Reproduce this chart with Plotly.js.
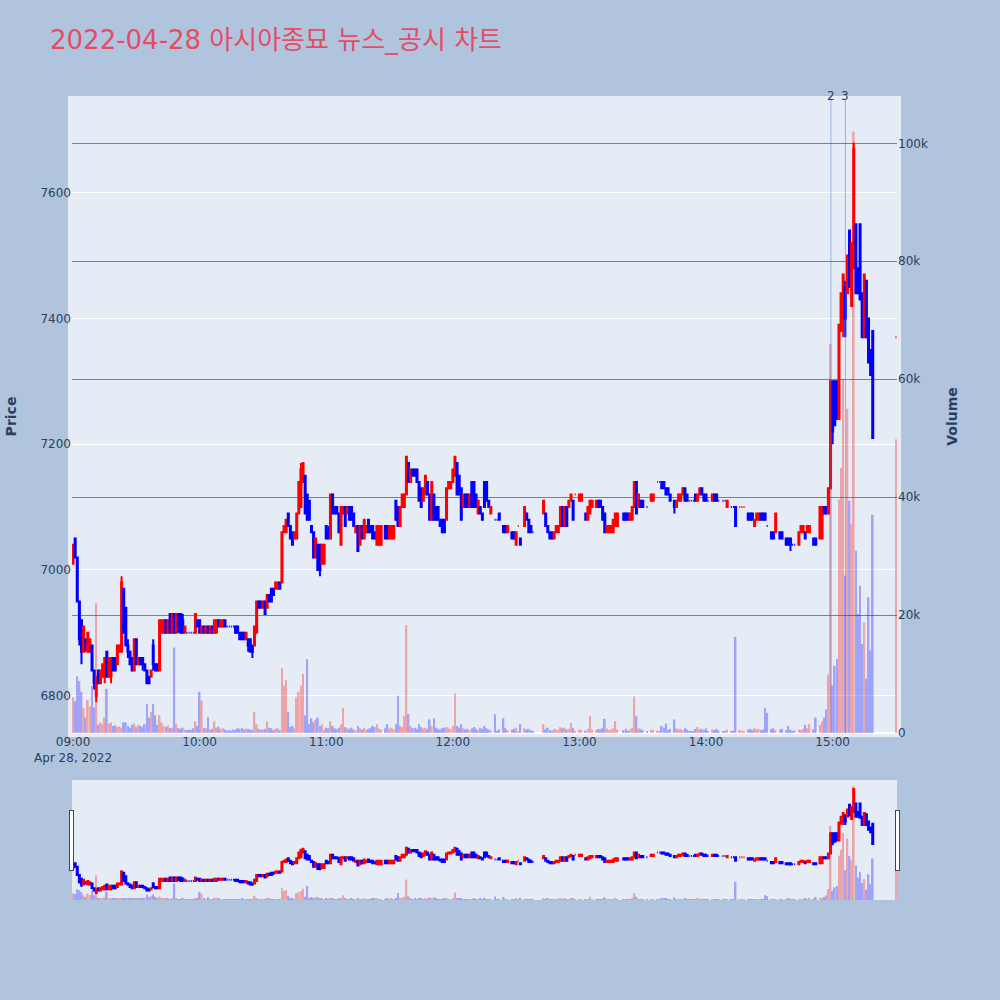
<!DOCTYPE html>
<html>
<head>
<meta charset="utf-8">
<script src="https://cdn.plot.ly/plotly-3.0.1.min.js"></script>
<style>body{margin:0;background:#b0c4de}</style>
</head>
<body>
<div id="chart" style="width:1000px;height:1000px"></div>
<script>
'use strict'

// 1-minute bars, 2022-04-28 (minutes with no trade are left out)
const times = [
  '09:00','09:01','09:02','09:03','09:04','09:05','09:06','09:07','09:08','09:09',
  '09:10','09:11','09:12','09:13','09:14','09:15','09:16','09:17','09:18','09:19',
  '09:20','09:21','09:22','09:23','09:24','09:25','09:26','09:27','09:28','09:29',
  '09:30','09:31','09:32','09:33','09:34','09:35','09:36','09:37','09:38','09:39',
  '09:40','09:41','09:42','09:43','09:44','09:45','09:46','09:47','09:48','09:49',
  '09:50','09:51','09:52','09:53','09:54','09:55','09:56','09:57','09:58','09:59',
  '10:00','10:01','10:02','10:03','10:04','10:05','10:06','10:07','10:08','10:09',
  '10:10','10:11','10:12','10:13','10:14','10:15','10:16','10:17','10:18','10:19',
  '10:20','10:21','10:22','10:23','10:24','10:25','10:26','10:27','10:28','10:29',
  '10:30','10:31','10:32','10:33','10:34','10:35','10:36','10:37','10:38','10:39',
  '10:40','10:41','10:42','10:43','10:44','10:45','10:46','10:47','10:48','10:49',
  '10:50','10:51','10:52','10:53','10:54','10:55','10:56','10:57','10:58','10:59',
  '11:00','11:01','11:02','11:03','11:04','11:05','11:06','11:07','11:08','11:09',
  '11:10','11:11','11:12','11:13','11:14','11:15','11:16','11:17','11:18','11:19',
  '11:20','11:21','11:22','11:23','11:24','11:25','11:26','11:28','11:29',
  '11:30','11:31','11:32','11:33','11:34','11:35','11:36','11:37','11:38','11:39',
  '11:40','11:41','11:42','11:43','11:44','11:45','11:46','11:47','11:48','11:49',
  '11:50','11:51','11:52','11:53','11:54','11:55','11:56','11:57','11:58','11:59',
  '12:00','12:01','12:02','12:03','12:04','12:05','12:06','12:07','12:08','12:09',
  '12:10','12:11','12:12','12:13','12:14','12:15','12:16','12:17','12:18',
  '12:20','12:21','12:22','12:24','12:25','12:26','12:28','12:29',
  '12:30','12:31','12:32','12:34','12:35','12:36','12:37','12:38',
  '12:43','12:44','12:45','12:46','12:47','12:48','12:49',
  '12:50','12:51','12:52','12:53','12:54','12:55','12:56','12:57','12:58',
  '13:00','13:01','13:03','13:04','13:05','13:06','13:08','13:09',
  '13:10','13:11','13:12','13:13','13:14','13:15','13:16','13:17','13:18',
  '13:21','13:22','13:23','13:24','13:25','13:26','13:27','13:28','13:29',
  '13:30','13:32','13:34','13:35','13:37','13:38','13:39',
  '13:40','13:41','13:42','13:43','13:45','13:46','13:47','13:48','13:49',
  '13:50','13:51','13:52','13:53','13:54','13:55','13:56','13:57','13:58','13:59',
  '14:00','14:01','14:03','14:04','14:05','14:06','14:08','14:09',
  '14:10','14:12','14:13','14:14','14:16','14:17','14:18',
  '14:20','14:21','14:22','14:23','14:24','14:25','14:26','14:27','14:28','14:29',
  '14:31','14:32','14:33','14:35','14:36','14:38','14:39',
  '14:40','14:41','14:42','14:44','14:45','14:46','14:47','14:48','14:49',
  '14:51','14:52','14:54','14:55','14:56','14:57','14:58','14:59',
  '15:00','15:01','15:02','15:03','15:04','15:05','15:06','15:07','15:08','15:09',
  '15:10','15:11','15:12','15:13','15:14','15:15','15:16','15:17','15:18','15:19',
  '15:30'
];

const opens = [
  7010,7050,7020,6950,6920,6870,6890,6870,6870,6880,
  6840,6800,6840,6820,6830,6830,6870,6830,6830,6860,
  6860,6850,6870,6870,6970,6940,6880,6870,6860,6840,
  6890,6850,6860,6860,6850,6840,6830,6830,6880,6850,
  6850,6840,6900,6900,6920,6900,6930,6900,6930,6900,
  6930,6930,6920,6900,6900,6900,6900,6900,6900,6920,
  6920,6900,6910,6900,6910,6900,6910,6900,6900,6920,
  6910,6910,6920,6910,6910,6910,6910,6910,6910,6900,
  6900,6900,6890,6890,6890,6880,6880,6900,6950,6950,
  6940,6950,6940,6960,6970,6970,6970,6970,6980,6980,
  7060,7060,7090,7070,7060,7050,7050,7090,7100,7140,
  7150,7120,7110,7070,7060,7020,7040,7040,7010,7010,
  7070,7060,7050,7120,7100,7100,7090,7040,7090,7100,
  7090,7100,7100,7090,7060,7070,7040,7070,7050,7060,
  7080,7070,7070,7060,7040,7040,7040,7070,7070,
  7050,7050,7050,7110,7100,7070,7100,7100,7120,7170,
  7140,7160,7160,7160,7140,7130,7110,7120,7140,7120,
  7080,7120,7100,7100,7080,7080,7080,7080,7130,7130,
  7140,7150,7170,7150,7130,7100,7120,7120,7100,7140,
  7140,7120,7090,7100,7090,7140,7140,7110,7090,
  7080,7080,7090,7070,7070,7060,7060,7060,
  7040,7070,7050,7070,7090,7080,7070,7060,
  7090,7090,7070,7060,7060,7050,7060,
  7060,7070,7100,7070,7100,7100,7110,7110,7120,
  7110,7110,7090,7080,7090,7100,7100,7110,
  7110,7100,7090,7060,7060,7060,7060,7070,7070,
  7090,7090,7090,7080,7080,7100,7140,7100,7110,
  7110,7100,7110,7110,7140,7140,7140,
  7140,7130,7130,7120,7110,7100,7110,7110,7120,
  7130,7120,7110,7110,7110,7120,7110,7120,7130,7120,
  7120,7110,7110,7120,7120,7110,7110,7110,
  7100,7100,7100,7100,7100,7100,7100,
  7090,7090,7090,7070,7080,7080,7090,7090,7090,7070,
  7060,7060,7060,7060,7060,7050,7050,
  7050,7040,7040,7040,7060,7060,7060,7060,7060,
  7050,7050,7050,7050,7100,7100,7090,7130,
  7300,7300,7300,7240,7380,7400,7450,7440,7540,7420,
  7480,7550,7480,7550,7440,7370,7460,7400,7350,7380,
  7370
];

const highs = [
  7040,7050,7020,6950,6920,6910,6890,6900,6890,6880,
  6840,6830,6840,6840,6850,6860,6870,6860,6860,6860,
  6860,6880,6880,6990,6970,6940,6890,6870,6860,6890,
  6890,6860,6860,6860,6850,6840,6830,6840,6890,6850,
  6850,6920,6920,6920,6920,6920,6930,6930,6930,6930,
  6930,6930,6930,6910,6900,6900,6900,6900,6930,6920,
  6920,6910,6910,6910,6910,6910,6910,6920,6920,6920,
  6920,6920,6920,6910,6910,6910,6910,6910,6910,6900,
  6900,6900,6900,6890,6890,6880,6910,6950,6950,6950,
  6950,6950,6960,6960,6970,6970,6980,6980,6980,7060,
  7070,7080,7090,7070,7060,7060,7090,7140,7170,7170,
  7150,7120,7110,7070,7060,7050,7040,7040,7040,7040,
  7070,7070,7120,7120,7100,7100,7090,7100,7100,7100,
  7100,7100,7100,7090,7070,7070,7070,7070,7080,7070,
  7080,7070,7070,7060,7070,7070,7070,7070,7070,
  7070,7070,7070,7110,7100,7100,7120,7120,7180,7170,
  7160,7160,7160,7160,7140,7130,7130,7150,7140,7120,
  7140,7120,7100,7100,7080,7080,7080,7130,7140,7140,
  7160,7180,7170,7150,7130,7120,7120,7120,7120,7140,
  7140,7120,7110,7100,7090,7140,7140,7110,7100,
  7080,7080,7090,7070,7070,7070,7060,7060,
  7060,7070,7050,7100,7090,7080,7070,7060,
  7110,7090,7070,7060,7060,7060,7070,
  7070,7100,7100,7100,7100,7110,7120,7110,7120,
  7120,7120,7090,7100,7110,7110,7110,7110,
  7110,7100,7090,7070,7070,7070,7080,7090,7090,
  7090,7090,7090,7090,7100,7140,7140,7120,7110,
  7110,7100,7120,7120,7140,7140,7140,
  7140,7130,7130,7120,7110,7110,7120,7120,7130,
  7130,7120,7110,7110,7110,7120,7120,7130,7130,7120,
  7120,7110,7120,7120,7120,7110,7110,7110,
  7110,7100,7100,7100,7100,7100,7100,
  7090,7090,7090,7080,7090,7090,7090,7090,7090,7070,
  7060,7060,7090,7060,7060,7050,7050,
  7050,7040,7040,7060,7070,7070,7060,7070,7070,
  7050,7050,7100,7100,7100,7100,7130,7300,
  7300,7300,7300,7390,7440,7470,7460,7500,7540,7520,
  7680,7550,7480,7550,7440,7470,7460,7400,7350,7380,
  7370
];

const lows = [
  7010,7020,6950,6880,6850,6870,6870,6870,6870,6840,
  6810,6790,6820,6820,6830,6820,6830,6830,6820,6840,
  6840,6850,6870,6870,6900,6880,6860,6850,6840,6840,
  6850,6850,6850,6840,6840,6820,6820,6830,6840,6840,
  6840,6840,6900,6900,6900,6900,6900,6900,6900,6900,
  6900,6900,6900,6900,6900,6900,6900,6900,6900,6910,
  6900,6900,6900,6900,6900,6900,6900,6900,6900,6910,
  6910,6910,6910,6910,6910,6910,6910,6900,6900,6890,
  6890,6890,6890,6870,6870,6860,6880,6900,6940,6940,
  6940,6930,6940,6950,6950,6960,6970,6970,6970,6980,
  7060,7060,7070,7050,7040,7050,7050,7090,7100,7140,
  7090,7080,7080,7060,7020,7020,7000,6990,7010,7010,
  7050,7050,7050,7090,7090,7090,7060,7040,7090,7070,
  7090,7080,7080,7070,7060,7030,7040,7050,7050,7060,
  7060,7060,7050,7050,7040,7040,7040,7050,7050,
  7050,7050,7050,7080,7070,7070,7100,7100,7120,7140,
  7140,7150,7150,7140,7110,7100,7110,7120,7120,7080,
  7080,7080,7080,7080,7070,7060,7060,7080,7130,7130,
  7140,7150,7120,7120,7080,7100,7100,7100,7100,7100,
  7100,7100,7090,7090,7080,7100,7110,7100,7090,
  7080,7080,7080,7060,7060,7060,7050,7050,
  7040,7070,7040,7070,7080,7060,7060,7060,
  7090,7070,7060,7050,7050,7050,7060,
  7060,7070,7070,7070,7070,7100,7110,7080,7120,
  7110,7110,7080,7080,7090,7100,7100,7100,
  7100,7080,7060,7060,7060,7060,7060,7070,7070,
  7080,7080,7080,7080,7080,7100,7090,7100,7100,
  7100,7100,7110,7110,7140,7140,7130,
  7130,7120,7120,7110,7090,7100,7110,7110,7120,
  7110,7110,7110,7110,7110,7110,7110,7120,7120,7110,
  7110,7110,7110,7110,7110,7110,7110,7110,
  7100,7100,7100,7070,7100,7100,7100,
  7080,7080,7080,7070,7080,7080,7080,7080,7080,7070,
  7050,7050,7060,7050,7050,7040,7040,
  7030,7040,7040,7040,7060,7060,7050,7060,7060,
  7040,7040,7050,7050,7090,7090,7090,7130,
  7200,7230,7240,7240,7380,7370,7370,7440,7450,7420,
  7480,7440,7440,7430,7370,7370,7370,7330,7310,7210,
  7370
];

const closes = [
  7040,7020,6950,6890,6870,6910,6880,6900,6890,6840,
  6820,6830,6820,6840,6850,6860,6830,6860,6860,6840,
  6840,6880,6880,6980,6900,6880,6870,6850,6840,6890,
  6850,6860,6850,6850,6840,6820,6820,6840,6850,6840,
  6840,6920,6920,6920,6900,6920,6900,6930,6900,6930,
  6910,6900,6900,6910,6900,6900,6900,6900,6930,6910,
  6900,6910,6900,6910,6900,6910,6900,6920,6920,6910,
  6920,6920,6910,6910,6910,6910,6910,6900,6900,6890,
  6890,6890,6900,6880,6870,6870,6910,6950,6940,6940,
  6950,6930,6960,6950,6950,6960,6980,6980,6970,7060,
  7070,7080,7070,7050,7040,7060,7090,7140,7160,7170,
  7090,7080,7080,7060,7020,7050,7000,7000,7040,7040,
  7050,7050,7120,7090,7090,7090,7060,7100,7100,7070,
  7100,7080,7080,7070,7070,7030,7070,7050,7080,7070,
  7060,7060,7050,7050,7070,7070,7070,7050,7050,
  7070,7070,7070,7080,7070,7100,7120,7120,7180,7140,
  7160,7150,7150,7140,7110,7100,7130,7150,7120,7080,
  7140,7080,7080,7080,7070,7060,7060,7130,7140,7140,
  7160,7180,7120,7120,7080,7120,7100,7100,7120,7100,
  7100,7100,7110,7090,7080,7100,7110,7100,7100,
  7080,7080,7080,7060,7060,7070,7050,7050,
  7060,7070,7040,7100,7080,7060,7060,7060,
  7110,7070,7060,7050,7050,7060,7070,
  7070,7100,7070,7100,7070,7110,7120,7080,7120,
  7120,7120,7080,7100,7110,7110,7110,7100,
  7100,7080,7060,7070,7070,7070,7080,7090,7090,
  7080,7080,7080,7090,7100,7140,7090,7120,7100,
  7100,7100,7120,7120,7140,7140,7130,
  7130,7120,7120,7110,7100,7110,7120,7120,7130,
  7110,7110,7110,7110,7110,7110,7120,7130,7120,7110,
  7110,7110,7120,7110,7110,7110,7110,7110,
  7110,7100,7100,7070,7100,7100,7100,
  7080,7080,7080,7080,7090,7090,7080,7080,7080,7070,
  7050,7050,7090,7050,7050,7040,7040,
  7040,7040,7040,7060,7070,7070,7050,7070,7070,
  7040,7040,7100,7100,7090,7090,7130,7300,
  7220,7230,7240,7390,7440,7470,7400,7500,7450,7520,
  7670,7440,7440,7430,7370,7470,7370,7330,7310,7210,
  7370
];

const volumes = [
  6000,5400,9600,8800,7000,4300,2600,5600,4500,8000,
  4300,22000,1400,1800,1500,2600,7500,1600,1800,1200,
  1300,1000,1100,900,1800,1800,1200,900,1400,1600,
  1000,1400,1200,1000,1500,4900,2600,3600,4900,3000,
  1400,3000,1800,1200,1000,1300,800,900,14500,1500,
  800,700,900,600,500,600,500,800,2000,1200,
  7000,5500,900,800,2700,600,700,2000,900,1100,
  700,800,600,400,500,400,600,500,800,700,
  900,600,700,700,600,500,3600,1500,700,600,
  600,700,2000,900,800,500,700,800,500,11000,
  8000,9000,3600,1000,1200,800,6000,7000,8000,10000,
  3000,12500,1500,2500,1800,2200,2600,1200,1500,600,
  900,800,2000,1200,800,700,900,1500,4300,1000,
  800,700,900,600,500,1200,800,600,900,500,
  700,800,1200,1000,1500,700,600,800,1500,
  700,900,600,1500,6300,1200,1000,2900,18300,3200,
  1200,800,900,700,1500,1000,800,900,700,2300,
  1200,2500,900,700,600,800,900,1000,800,700,
  1200,6700,1200,900,1500,800,600,700,500,800,
  1000,700,500,900,700,1200,800,600,500,
  3200,400,600,2500,800,500,600,700,
  900,300,1500,800,600,700,500,300,
  1500,600,900,500,400,700,600,
  500,1000,800,900,600,700,1700,900,300,
  600,500,400,700,2900,600,500,700,
  600,800,2400,700,500,600,800,2000,600,
  500,700,400,600,900,6200,2900,800,700,
  500,300,600,500,400,300,1200,
  900,1600,500,700,2300,800,600,700,500,
  900,600,300,400,300,700,1000,600,700,500,
  800,300,600,500,700,400,300,300,
  600,300,400,16300,500,400,300,
  600,700,500,800,600,700,500,600,4300,3400,
  700,800,500,600,700,500,1200,
  600,300,400,600,500,700,1400,800,1500,
  600,2600,1400,2000,2600,4000,9900,66000,
  8100,11400,12500,39600,45000,60000,26700,55000,39400,35500,
  102000,30900,20200,25000,15100,18700,9200,23000,14000,37000,
  49800
];

// news / disclosure markers
const newsTimes = ['2022-04-28 14:59:12', '2022-04-28 15:06:04'];
const newsLabels = ['2', '3'];

const day = '2022-04-28 ';
const x = times.map(t => day + t);

// same up/down rule as the candles: flat bars follow the previous close
let up = true;
let prevClose = null;
const volColors = closes.map((c, i) => {
    const o = opens[i];
    if (c === o) {
        if (prevClose !== null && c !== prevClose) up = c > prevClose;
    } else {
        up = c > o;
    }
    prevClose = c;
    return up ? 'red' : 'blue';
});

const candles = {
    type: 'candlestick',
    x: x,
    open: opens,
    high: highs,
    low: lows,
    close: closes,
    name: 'Price',
    increasing: {line: {color: 'red'}, fillcolor: 'red'},
    decreasing: {line: {color: 'blue'}, fillcolor: 'blue'},
    yaxis: 'y'
};

const volume = {
    type: 'bar',
    x: x,
    y: volumes,
    name: 'Volume',
    marker: {color: volColors},
    opacity: 0.3,
    yaxis: 'y2'
};

const xRange = ['2022-04-28 08:59:30', '2022-04-28 15:30:30'];

const shapes = newsTimes.map(t => ({
    type: 'line',
    xref: 'x', yref: 'paper',
    x0: t, x1: t, y0: 0, y1: 1,
    line: {color: 'rgba(65,105,225,0.45)', width: 1}
}));
// plot background reaches a little past the axes
shapes.push({
    type: 'rect', xref: 'paper', yref: 'paper',
    x0: -0.0049, x1: 1.0049, y0: -0.0064, y1: 1.0064,
    fillcolor: '#e5ecf6', line: {width: 0}, layer: 'below'
});

const annotations = newsTimes.map((t, i) => ({
    x: t, xref: 'x',
    y: 1, yref: 'paper',
    yanchor: 'bottom',
    yshift: -5,
    text: newsLabels[i],
    showarrow: false,
    font: {size: 12, color: '#2a3f5f'}
}));

const layout = {
    width: 1000,
    height: 1000,
    paper_bgcolor: '#b0c4de',
    plot_bgcolor: '#e5ecf6',
    font: {family: '"DejaVu Sans", "Noto Sans CJK KR", sans-serif', color: '#2a3f5f', size: 12},
    title: {
        text: '2022-04-28 아시아종묘 뉴스_공시 차트',
        font: {size: 26, color: '#e64c63'},
        x: 0.05, xanchor: 'left',
        y: 0.96, yanchor: 'middle'
    },
    margin: {l: 72, r: 103, t: 100, b: 100},
    showlegend: false,
    hovermode: 'x',
    xaxis: {
        type: 'date',
        range: xRange,
        tick0: '2022-04-28 09:00',
        dtick: 3600000,
        showgrid: false,
        ticks: '',
        rangeslider: {visible: true, thickness: 0.15, bgcolor: '#e5ecf6', range: xRange}
    },
    yaxis: {
        title: {text: 'Price', font: {size: 14, weight: 'bold'}, standoff: 20},
        range: [6740.7, 7747.5],
        dtick: 200,
        gridcolor: 'white',
        zeroline: false
    },
    yaxis2: {
        title: {text: 'Volume', font: {size: 14, weight: 'bold'}, standoff: 20},
        overlaying: 'y',
        side: 'right',
        range: [0, 107350],
        dtick: 20000,
        gridcolor: 'grey',
        zerolinecolor: 'white',
        zerolinewidth: 2
    },
    shapes: shapes,
    annotations: annotations
};

Plotly.newPlot('chart', [volume, candles], layout, {displayModeBar: false});
</script>
</body>
</html>
